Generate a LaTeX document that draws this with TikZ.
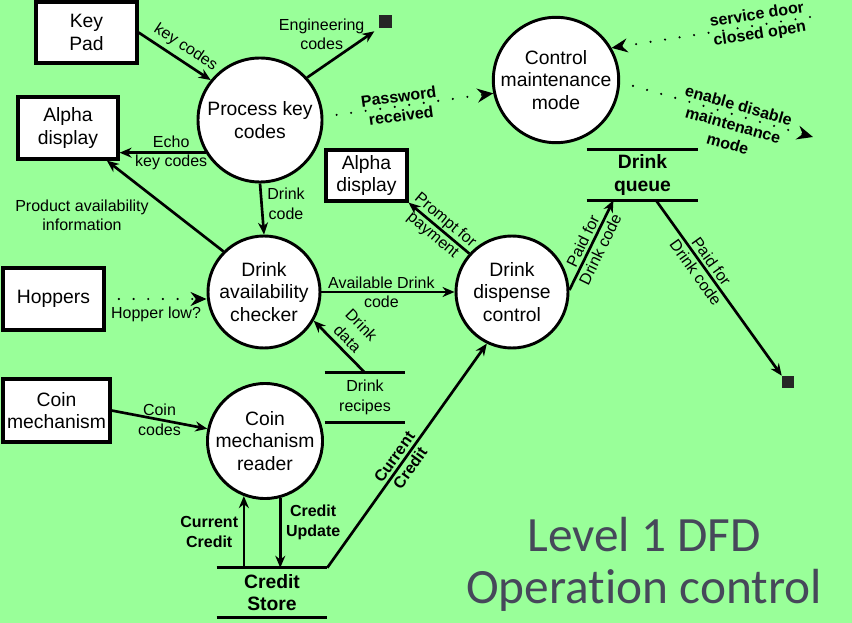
\documentclass[tikz,border=0pt]{standalone}
\usepackage{fontspec}
\setmainfont{Liberation Sans}
\newfontfamily\titlefont[Ligatures=NoCommon]{Carlito}
\usetikzlibrary{arrows.meta}
\definecolor{bg}{RGB}{153,255,153}
\definecolor{titlegray}{RGB}{70,72,90}

\begin{document}
\begin{tikzpicture}[x=0.75pt,y=-0.75pt,
  proc/.style={circle,draw,line width=2.2pt,fill=white,minimum size=#1,inner sep=0pt,align=center,font=\fontsize{14.5}{17}\selectfont},
  ext/.style 2 args={draw,line width=2.4pt,fill=white,minimum width=#1,minimum height=#2,inner sep=0pt,align=center,font=\fontsize{14.5}{17}\selectfont},
  store/.style 2 args={minimum width=#1,minimum height=#2,inner sep=0pt,align=center},
  sink/.style={fill=black!85,minimum size=#1,inner sep=0pt},
  flow/.style={line width=2pt,-{Stealth[length=9pt,width=7.5pt]}},
  signal/.style={line width=1.8pt,dash pattern=on 0pt off 11pt,line cap=round,-{Stealth[length=12pt,width=10.5pt,inset=4pt]}},
  lbl/.style={font=\fontsize{12}{14.5}\selectfont,align=center},
  blbl/.style={font=\bfseries\fontsize{12}{14.5}\selectfont,align=center}]
\fill[bg] (0,0) rectangle (852,623);
\useasboundingbox (0,0) rectangle (852,623);

% external entities
\node[ext={75.75pt}{45.75pt}] (keypad) at (86.5,32.5) {Key\\Pad};
\node[ext={75pt}{46.5pt}] (alphaL) at (68,128) {Alpha\\display};
\node[ext={60.75pt}{38.25pt}] (alphaM) at (366.5,175.5) {Alpha\\display};
\node[ext={75.75pt}{46.5pt}] (hoppers) at (53.5,299) {Hoppers};
\node[ext={80.25pt}{47.25pt}] (coinmech) at (56.5,410.5) {Coin\\mechanism};

% processes
\node[proc=93pt] (pkc) at (260,120) {Process key\\codes};
\node[proc=93pt] (cmm) at (556,80) {Control\\maintenance\\mode};
\node[proc=84pt] (dac) at (264,292) {Drink\\availability\\checker};
\node[proc=84pt] (ddc) at (512,292) {Drink\\dispense\\control};
\node[proc=85.5pt] (cmr) at (265,441) {Coin\\mechanism\\reader};

% data stores
\node[store={83.25pt}{37.5pt},font=\bfseries\fontsize{14.5}{17}\selectfont] (dq) at (642.5,175) {Drink\\queue};
\node[store={60pt}{36.75pt},font=\fontsize{12}{14.5}\selectfont] (dr) at (365,397.5) {Drink\\recipes};
\node[store={82.5pt}{36.75pt},font=\bfseries\fontsize{14.5}{17}\selectfont] (cs) at (272,592.5) {Credit\\Store};
\foreach \s in {dq,dr,cs}
  \draw[line width=2.3pt] (\s.north west) -- (\s.north east) (\s.south west) -- (\s.south east);

% sinks
\node[sink=9.75pt] (eng) at (385.5,21.5) {};
\node[sink=9pt] (out) at (788,382) {};

% data flows
\draw[flow] (keypad.east) -- node[lbl,sloped,above,pos=0.55]{key codes} (pkc.141);
\draw[flow,shorten >=4pt] (pkc.42) -- node[lbl,left,pos=0.88]{Engineering\\codes} (eng.south west);
\draw[flow] (pkc.211) -- node[lbl,pos=0.4]{Echo\\key codes} (pkc.211 -| alphaL.east);
\draw[flow] (dac.135) -- (alphaL.-40);
\node[lbl] (painfo) at (82,215) {Product availability\\information};
\draw[flow] (pkc.south) -- node[lbl,right,pos=0.4]{Drink\\code} (dac.north);
\draw[signal,shorten <=10pt] (hoppers.east) -- node[lbl,below=2pt]{Hopper low?} (hoppers.east -| dac.west);
\draw[flow] (dac.east) -- node[lbl,pos=0.45]{Available Drink\\code} (ddc.west);
\draw[flow] (dr.north) -- node[lbl,sloped,above]{Drink\\data} (dac.-30);
\draw[flow] (ddc.138) -- node[lbl,sloped]{Prompt for\\payment} (alphaM.south east);
\draw[flow] (ddc.2) -- node[lbl,sloped]{Paid for\\Drink code} (dq.-139);
\draw[flow] (dq.-62) -- node[lbl,sloped,pos=0.38]{Paid for\\Drink code} (out.north west);
\draw[flow] (coinmech.east) -- node[lbl]{Coin\\codes} (cmr.168);
\draw[flow] (cs.north -| cmr.249) -- node[blbl,left]{Current\\Credit} (cmr.249);
\draw[flow] (cmr.285) -- node[blbl,right,pos=0.35]{Credit\\Update} (cmr.285 |- cs.north);
\draw[flow] (cs.north east) -- node[blbl,sloped,pos=0.47]{Current\\Credit} (ddc.244);

% control signals
\draw[signal,shorten <=10pt] (pkc.3) -- node[blbl,sloped,pos=0.45]{Password\\received} (cmm.192);
\coordinate (door) at (810,17);
\draw[signal] (door) -- node[blbl,sloped,pos=0.26]{service door\\closed open} (cmm.30);
\coordinate (mode) at (813,137);
\draw[signal,shorten <=10pt] (cmm.-2) -- node[blbl,sloped,pos=0.6,above=-1pt]{enable disable}
  node[blbl,sloped,pos=0.6,below=-1pt]{maintenance\\mode} (mode);

\node[font=\titlefont\fontsize{37}{39}\selectfont,text=titlegray,align=center] (title) at (644,564) {Level 1 DFD\\Operation control};
\end{tikzpicture}
\end{document}
